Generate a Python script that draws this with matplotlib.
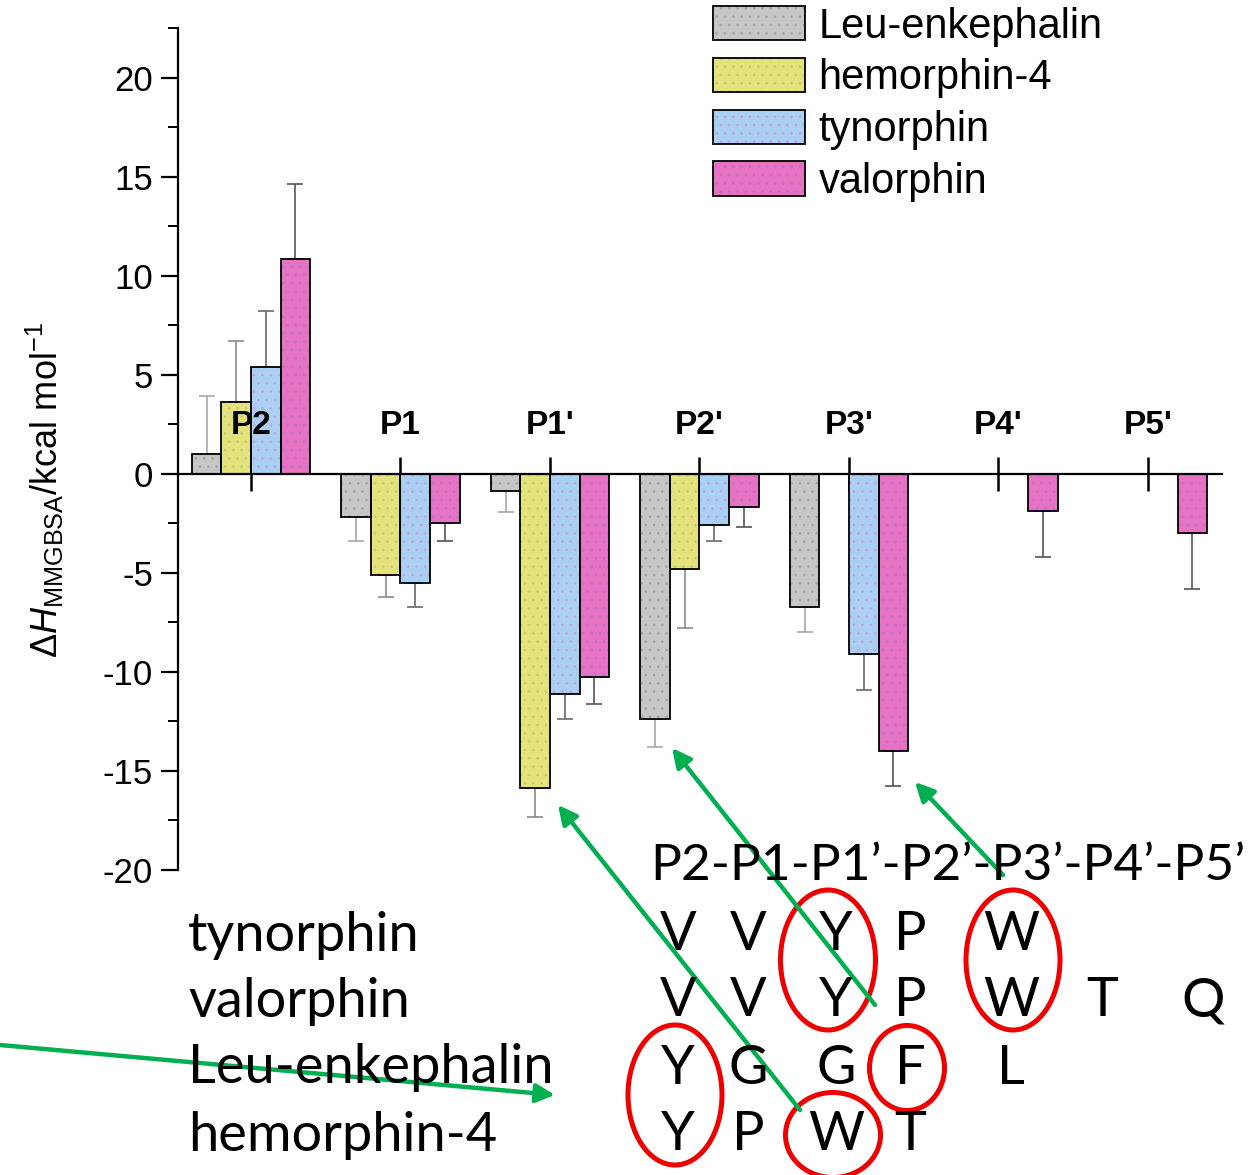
import numpy as np
import matplotlib.pyplot as plt
from matplotlib.patches import Ellipse, FancyArrowPatch
from matplotlib.ticker import MultipleLocator

plt.rcParams['font.family'] = ['Liberation Sans', 'DejaVu Sans']
plt.rcParams['mathtext.fontset'] = 'custom'
plt.rcParams['mathtext.rm'] = 'Liberation Sans'
plt.rcParams['mathtext.it'] = 'Liberation Sans:italic'
plt.rcParams['hatch.linewidth'] = 0.8
plt.rcParams['axes.unicode_minus'] = False

nan = np.nan
sites = ['P2', 'P1', "P1'", "P2'", "P3'", "P4'", "P5'"]
peptides = ['Leu-enkephalin', 'hemorphin-4', 'tynorphin', 'valorphin']

leu = [1.0, -2.2, -0.85, -12.4, -6.7, nan, nan]
leu_err = [2.9, 1.2, 1.1, 1.4, 1.3, nan, nan]
hem = [3.6, -5.1, -15.85, -4.8, nan, nan, nan]
hem_err = [3.1, 1.1, 1.45, 3.0, nan, nan, nan]
tyn = [5.4, -5.5, -11.1, -2.6, -9.1, nan, nan]
tyn_err = [2.8, 1.2, 1.3, 0.8, 1.8, nan, nan]
val = [10.85, -2.5, -10.25, -1.7, -14.0, -1.9, -3.0]
val_err = [3.8, 0.9, 1.35, 1.0, 1.75, 2.3, 2.8]

colors = ['#c6c6c6', '#e4e27c', '#a9d0f2', '#e672c2']
dot_colors = ['#a8a8a8', '#cfcd68', '#c8a2e2', '#bf74d8']
err_colors = ['#a8a8a8', '#8a8a8a', '#6a6a6a', '#555555']

# sequence table under the chart
seq_header = 'P2-P1-P1’-P2’-P3’-P4’-P5’'
seq_names = ['tynorphin', 'valorphin', 'Leu-enkephalin', 'hemorphin-4']
seqs = [['V', 'V', 'Y', 'P', 'W'],
        ['V', 'V', 'Y', 'P', 'W', 'T', 'Q'],
        ['Y', 'G', 'G', 'F', 'L'],
        ['Y', 'P', 'W', 'T']]

W, H = 1260, 1175


def fp(x, y):
    # pixel position -> figure fraction
    return (x / W, 1 - y / H)


fig = plt.figure(figsize=(12.6, 11.75), dpi=100)
ax = fig.add_axes([178 / W, 1 - 870 / H, (1222 - 178) / W, (870 - 28) / H])

x = np.arange(len(sites))
w = 0.198
handles = []
for i, (vals, errs) in enumerate(zip([leu, hem, tyn, val], [leu_err, hem_err, tyn_err, val_err])):
    vals = np.array(vals)
    errs = np.array(errs)
    pos = x + (i - 1.5) * w
    b1 = ax.bar(pos, vals, w, color=colors[i], edgecolor=dot_colors[i], linewidth=0,
                hatch='..', zorder=3)
    b2 = ax.bar(pos, vals, w, fill=False, edgecolor='black', linewidth=1.3, zorder=4)
    lower = np.where(vals < 0, errs, 0)
    upper = np.where(vals > 0, errs, 0)
    ax.errorbar(pos, vals, yerr=[lower, upper], fmt='none', ecolor=err_colors[i],
                elinewidth=1.2, capsize=6, capthick=1.2, zorder=2)
    handles.append((b1[0], b2[0]))

ax.set_xlim(-0.488, 6.495)
ax.set_ylim(-20, 22.5)
ax.spines['top'].set_visible(False)
ax.spines['right'].set_visible(False)
ax.spines['bottom'].set_position(('data', 0))
ax.spines['bottom'].set_linewidth(1.6)
ax.spines['bottom'].set_zorder(5)
ax.spines['left'].set_linewidth(1.6)

ax.set_xticks(x)
ax.tick_params(axis='x', direction='inout', length=24, width=1.8, labelbottom=False)
ax.yaxis.set_major_locator(MultipleLocator(5))
ax.yaxis.set_minor_locator(MultipleLocator(2.5))
ax.tick_params(axis='y', which='major', direction='out', length=12, width=1.6,
               labelsize=25, pad=6)
ax.tick_params(axis='y', which='minor', direction='out', length=7, width=1.4)
ax.set_yticks([20, 15, 10, 5, 0, -5, -10, -15, -20])

for i, s in enumerate(sites):
    ax.text(i, 2.45, s, ha='center', va='center', fontsize=24, fontweight='bold', zorder=6)

fig.text(45 / W, 1 - 490 / H, r'$\Delta\mathit{H}_{\mathrm{MMGBSA}}$/kcal mol$^{-1}$',
         rotation=90, ha='center', va='center', fontsize=26)

ax.legend(handles, peptides, loc='upper left', bbox_to_anchor=fp(713, 6),
          bbox_transform=fig.transFigure, frameon=False, fontsize=30,
          handlelength=2.2, handleheight=0.89, labelspacing=0.27,
          handletextpad=0.33, borderpad=0, borderaxespad=0)

# sequence table
seq_font = ['Lato', 'DejaVu Sans']
fig.text(*fp(650, 866), seq_header, ha='left', va='center', fontsize=37, family=seq_font)
col_x = [678, 748, 836, 910, 1011, 1102, 1203]
row_y = [935, 1001, 1068, 1135]
for name, seq, y in zip(seq_names, seqs, row_y):
    fig.text(*fp(188, y), name, ha='left', va='center', fontsize=39, family=seq_font)
    for cx, aa in zip(col_x, seq):
        fig.text(*fp(cx, y), aa, ha='center', va='center', fontsize=39, family=seq_font)

ellipses = [(828, 960, 95, 140), (1013, 960, 94, 140), (675, 1095, 94, 140),
            (907, 1068, 75, 85), (833, 1135, 95, 85)]
for cx, cy, ew, eh in ellipses:
    e = Ellipse(fp(cx, cy), ew / W, eh / H, transform=fig.transFigure,
                fill=False, edgecolor='#ee0000', linewidth=3.6)
    fig.add_artist(e)

arrows = [((875, 1005), (672, 748)), ((800, 1110), (558, 805)),
          ((1003, 875), (915, 782)), ((0, 1045), (555, 1095))]
for (x0, y0), (x1, y1) in arrows:
    a = FancyArrowPatch(fp(x0, y0), fp(x1, y1), transform=fig.transFigure,
                        arrowstyle='-|>', mutation_scale=28, linewidth=3.2,
                        color='#00b050', shrinkA=0, shrinkB=0)
    fig.add_artist(a)

fig.savefig('out.png', dpi=100)
